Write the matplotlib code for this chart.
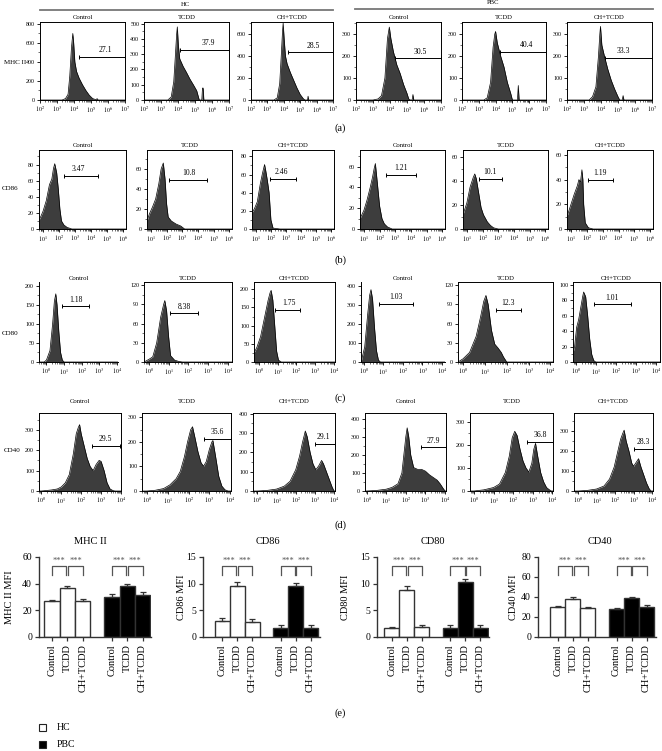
import numpy as np
import matplotlib
matplotlib.use("Agg")
import matplotlib.pyplot as plt
from matplotlib.patches import Rectangle
from matplotlib.lines import Line2D
from matplotlib.ticker import FixedLocator, AutoMinorLocator

plt.rcParams['font.family'] = ['Liberation Serif', 'DejaVu Serif']
plt.rcParams['mathtext.fontset'] = 'stix'

groups = ["Control", "TCDD", "CH+TCDD"]
subsets = ["HC", "PBC"]

# ---- flow histograms: x in decades (log10 of fluorescence), y = counts ----
# (a) MHC II  order: HC ctrl, HC TCDD, HC CH+TCDD, PBC ctrl, PBC TCDD, PBC CH+TCDD
mhc_x = [
    [2.0, 3.3, 3.5, 3.65, 3.75, 3.85, 3.93, 3.98, 4.05, 4.15, 4.3, 4.5, 4.7, 4.9, 5.1, 5.3, 5.36, 5.4, 5.45, 7.0],
    [2.0, 3.4, 3.6, 3.75, 3.85, 3.92, 3.96, 4.02, 4.1, 4.3, 4.5, 4.7, 4.9, 5.1, 5.25, 5.4, 5.44, 5.48, 5.52, 7.0],
    [2.0, 3.4, 3.6, 3.75, 3.85, 3.92, 3.96, 4.02, 4.1, 4.2, 4.4, 4.6, 4.8, 5.0, 5.2, 5.3, 5.45, 5.48, 5.52, 7.0],
    [2.0, 3.0, 3.3, 3.5, 3.7, 3.85, 3.96, 4.05, 4.2, 4.4, 4.6, 4.8, 5.0, 5.1, 5.2, 5.3, 5.35, 5.4, 7.0],
    [2.0, 3.3, 3.5, 3.7, 3.85, 3.95, 4.0, 4.1, 4.3, 4.5, 4.7, 4.9, 5.0, 5.3, 5.35, 5.4, 7.0],
    [2.0, 3.3, 3.5, 3.7, 3.85, 3.93, 3.97, 4.05, 4.2, 4.4, 4.6, 4.8, 5.0, 5.1, 5.25, 5.3, 5.35, 7.0],
]
mhc_y = [
    [0, 0, 15, 60, 250, 550, 700, 600, 400, 300, 230, 160, 100, 50, 15, 3, 15, 3, 0, 0],
    [0, 0, 20, 120, 300, 430, 478, 360, 270, 220, 180, 137, 100, 61, 0, 0, 78, 78, 0, 0],
    [0, 0, 20, 150, 420, 620, 700, 560, 400, 330, 250, 180, 110, 50, 10, 0, 0, 35, 0, 0],
    [0, 0, 5, 20, 100, 280, 332, 280, 220, 160, 120, 70, 30, 5, 0, 0, 25, 0, 0],
    [0, 0, 10, 80, 240, 300, 312, 260, 200, 150, 80, 30, 0, 0, 66, 0, 0],
    [0, 0, 15, 60, 200, 300, 335, 250, 200, 140, 90, 50, 15, 0, 0, 20, 0, 0],
]
mhc_pct = ["27.1", "37.9", "28.5", "30.5", "40.4", "33.3"]
mhc_gate_lo = [4.27, 4.12, 4.27, 4.29, 4.29, 4.26]
mhc_gate_hi = [7.0, 7.0, 7.0, 7.0, 7.0, 7.0]
mhc_gate_y = [455, 326, 434, 190, 219, 192]
mhc_lab_x = [5.85, 5.78, 5.78, 5.76, 5.85, 5.33]

# (b) CD86
cd86_x = [
    [0.75, 0.85, 1.0, 1.2, 1.4, 1.55, 1.65, 1.73, 1.85, 1.95, 2.05, 2.15, 2.3, 2.5, 2.8, 6.17],
    [0.75, 0.9, 1.1, 1.3, 1.5, 1.65, 1.79, 1.9, 2.0, 2.1, 2.3, 2.6, 2.9, 3.15, 6.17],
    [0.75, 0.9, 1.1, 1.3, 1.45, 1.58, 1.65, 1.75, 1.88, 2.0, 2.14, 2.6, 6.17],
    [0.75, 1.0, 1.2, 1.4, 1.55, 1.65, 1.73, 1.85, 2.0, 2.15, 2.3, 2.5, 2.8, 6.17],
    [0.75, 1.0, 1.2, 1.4, 1.5, 1.6, 1.75, 1.9, 2.05, 2.3, 2.5, 2.7, 3.0, 6.17],
    [0.75, 1.0, 1.2, 1.4, 1.5, 1.6, 1.69, 1.75, 1.8, 1.9, 2.1, 2.4, 6.17],
]
cd86_y = [
    [11, 15, 22, 35, 55, 62, 75, 81, 70, 50, 25, 10, 5, 2, 0, 0],
    [8, 15, 22, 30, 45, 60, 66, 50, 25, 12, 8, 5, 3, 0, 0],
    [18, 22, 30, 50, 62, 71, 65, 55, 40, 10, 1, 0, 0],
    [10, 18, 28, 40, 50, 58, 63, 45, 22, 10, 5, 2, 0, 0],
    [12, 22, 35, 43, 46, 42, 30, 18, 12, 6, 3, 1, 0, 0],
    [10, 20, 28, 35, 40, 38, 48, 40, 20, 5, 1, 0, 0],
]
cd86_pct = ["3.47", "10.8", "2.46", "1.21", "10.1", "1.19"]
cd86_gate_lo = [2.31, 2.15, 1.94, 2.39, 1.74, 2.1]
cd86_gate_hi = [4.44, 4.6, 3.68, 4.31, 3.23, 3.63]
cd86_gate_y = [66, 49, 55, 52, 42, 40]
cd86_lab_x = [3.19, 3.42, 2.68, 3.35, 2.49, 2.83]

# (c) CD80
cd80_x = [
    [-0.42, -0.13, 0.0, 0.2, 0.35, 0.45, 0.53, 0.6, 0.7, 0.8, 0.9, 1.0, 4.05],
    [-0.24, 0.0, 0.2, 0.4, 0.6, 0.75, 0.81, 0.9, 1.0, 1.1, 1.3, 1.5, 1.7, 4.2],
    [-0.25, -0.1, 0.1, 0.3, 0.5, 0.6, 0.66, 0.75, 0.85, 0.95, 1.05, 1.2, 4.05],
    [-0.14, -0.1, 0.05, 0.2, 0.3, 0.37, 0.45, 0.55, 0.65, 0.75, 0.85, 4.15],
    [-0.23, 0.0, 0.3, 0.6, 0.8, 0.95, 1.05, 1.15, 1.3, 1.45, 1.6, 1.75, 1.85, 2.0, 4.12],
    [-0.13, -0.05, 0.05, 0.15, 0.25, 0.35, 0.4, 0.5, 0.6, 0.7, 0.8, 0.9, 1.0, 4.2],
]
cd80_y = [
    [0, 0, 5, 30, 100, 160, 179, 150, 80, 25, 5, 0, 0],
    [0, 4, 8, 30, 70, 90, 96, 80, 40, 10, 3, 1, 0, 0],
    [25, 40, 70, 120, 170, 190, 197, 170, 100, 30, 5, 0, 0],
    [0, 15, 80, 250, 350, 380, 330, 180, 60, 10, 0, 0],
    [0, 5, 15, 40, 70, 95, 104, 90, 50, 28, 22, 15, 8, 0, 0],
    [12, 20, 45, 55, 70, 85, 91, 85, 60, 30, 10, 2, 0, 0],
]
cd80_pct = ["1.18", "8.38", "1.75", "1.03", "12.3", "1.01"]
cd80_gate_lo = [0.9, 1.07, 0.89, 0.76, 1.51, 0.9]
cd80_gate_hi = [2.4, 2.46, 2.2, 2.5, 2.65, 2.78]
cd80_gate_y = [146, 76, 144, 305, 82, 75]
cd80_lab_x = [1.66, 1.78, 1.62, 1.63, 2.08, 1.83]

# (d) CD40
cd40_x = [
    [-0.12, 0.0, 0.5, 0.8, 1.0, 1.2, 1.4, 1.6, 1.75, 1.85, 1.92, 2.0, 2.15, 2.3, 2.45, 2.6, 2.75, 2.9, 3.0, 3.15, 3.3, 3.45, 3.6, 3.7, 4.0],
    [-0.24, 0.0, 0.4, 0.8, 1.1, 1.4, 1.6, 1.8, 1.95, 2.1, 2.19, 2.3, 2.45, 2.6, 2.72, 2.85, 3.0, 3.12, 3.17, 3.3, 3.45, 3.6, 3.75, 3.9, 4.04],
    [-0.23, 0.0, 0.5, 1.0, 1.4, 1.7, 2.0, 2.2, 2.35, 2.5, 2.6, 2.75, 2.9, 3.05, 3.2, 3.35, 3.45, 3.6, 3.75, 3.9, 4.0, 4.05],
    [-0.08, 0.0, 0.5, 1.0, 1.3, 1.6, 1.8, 1.9, 2.0, 2.07, 2.15, 2.25, 2.4, 2.6, 2.8, 3.0, 3.2, 3.4, 3.6, 3.75, 3.9, 4.0, 4.05],
    [-0.2, 0.0, 0.5, 1.0, 1.3, 1.6, 1.8, 1.95, 2.08, 2.2, 2.35, 2.5, 2.65, 2.8, 2.95, 3.05, 3.14, 3.25, 3.4, 3.55, 3.7, 3.85, 3.95, 4.03],
    [-0.22, 0.0, 0.5, 1.0, 1.4, 1.7, 1.95, 2.15, 2.3, 2.42, 2.49, 2.6, 2.75, 2.9, 3.0, 3.15, 3.27, 3.4, 3.55, 3.7, 3.85, 3.95, 4.05],
]
cd40_y = [
    [0, 0, 5, 10, 20, 40, 80, 180, 280, 310, 325, 280, 220, 160, 120, 100, 130, 150, 145, 100, 40, 10, 2, 0, 0],
    [0, 0, 3, 10, 25, 50, 80, 140, 200, 250, 262, 220, 160, 115, 101, 120, 170, 200, 206, 140, 60, 20, 5, 0, 0],
    [0, 0, 3, 10, 25, 50, 110, 180, 250, 310, 280, 200, 140, 110, 130, 158, 140, 100, 60, 20, 0, 0],
    [0, 0, 3, 10, 20, 40, 100, 200, 300, 350, 300, 200, 130, 120, 120, 110, 90, 75, 60, 40, 15, 0, 0],
    [0, 0, 5, 15, 30, 80, 150, 230, 258, 240, 180, 130, 100, 82, 120, 180, 206, 150, 80, 40, 15, 5, 0, 0],
    [0, 0, 3, 10, 25, 60, 120, 200, 260, 290, 305, 250, 200, 140, 124, 145, 162, 120, 80, 40, 10, 0, 0],
]
cd40_pct = ["29.5", "35.6", "29.1", "27.9", "36.8", "28.3"]
cd40_gate_lo = [2.55, 2.75, 3.0, 2.75, 2.68, 3.0]
cd40_gate_hi = [3.95, 4.03, 4.05, 4.03, 4.03, 4.03]
cd40_gate_y = [221, 213, 245, 242, 211, 210]
cd40_lab_x = [3.22, 3.36, 3.45, 3.39, 3.36, 3.55]

# ---- (e) mean fluorescence intensity ----
mhc_hc = [27.3, 37, 26.7]
mhc_hc_err = [0.8, 1.5, 1.5]
mhc_pbc = [30, 38, 31.7]
mhc_pbc_err = [2, 2, 2.3]
cd86_hc = [3.05, 9.6, 2.8]
cd86_hc_err = [0.6, 0.8, 0.5]
cd86_pbc = [1.65, 9.6, 1.65]
cd86_pbc_err = [0.6, 0.5, 0.6]
cd80_hc = [1.75, 8.8, 1.95]
cd80_hc_err = [0.2, 0.75, 0.25]
cd80_pbc = [1.75, 10.4, 1.75]
cd80_pbc_err = [0.5, 0.45, 0.5]
cd40_hc = [30, 38, 29]
cd40_hc_err = [1, 2.5, 1]
cd40_pbc = [28, 39, 30]
cd40_pbc_err = [1.5, 1.5, 2.5]

W, H = 662, 751
fig = plt.figure(figsize=(W / 100, H / 100), dpi=100)


def px_axes(l, t, w, h):
    return fig.add_axes([l / W, 1 - (t + h) / H, w / W, h / H])


def ftext(x, y, s, **kw):
    kw.setdefault('ha', 'center')
    kw.setdefault('va', 'center')
    fig.text(x / W, 1 - y / H, s, **kw)


def flow_panel(rect, x, y, xlim, ytop, ystep, dec, title, lo, hi, gy, lx, pct, box, pad):
    ax = px_axes(*rect)
    ax.fill_between(x, y, 0, color='#3d3d3d', lw=0)
    ax.plot(x, y, color='black', lw=0.5)
    ax.set_xlim(*xlim)
    ax.set_ylim(0, ytop)
    ax.set_xticks(dec)
    ax.set_xticklabels([f'$10^{{{d}}}$' for d in dec])
    minor = [d + np.log10(k) for d in range(dec[0] - 1, dec[-1] + 1) for k in range(2, 10)]
    ax.xaxis.set_minor_locator(FixedLocator([m for m in minor if xlim[0] <= m <= xlim[1]]))
    ax.set_yticks(np.arange(0, ytop + 1, ystep))
    ax.yaxis.set_minor_locator(AutoMinorLocator(2))
    ax.tick_params(which='major', length=2, width=0.6, labelsize=4.3, pad=1.5)
    ax.tick_params(which='minor', length=1.2, width=0.4)
    for s in ax.spines.values():
        s.set_linewidth(0.7)
    if not box:
        ax.spines[['top', 'right']].set_visible(False)
    ax.plot([lo, hi], [gy, gy], color='black', lw=0.7, marker='|', ms=3.5, mew=0.7, clip_on=False)
    ax.text(lx, gy + ytop * 0.035, pct, ha='center', va='bottom', fontsize=5.5)
    ax.set_title(title, fontsize=4.8, pad=pad)
    return ax


# flow rows: (data, layout)
row_tops = [22, 150, 282, 413]
row_h = [78, 79, 80, 78]
row_lefts = [[40, 144, 251, 356, 462, 567],
             [39, 147, 252, 360, 463, 567],
             [39, 144, 254, 361, 458, 573],
             [39, 142, 253, 365, 470, 574]]
row_widths = [[85, 85, 82, 85, 84, 85],
              [87, 85, 82, 85, 85, 86],
              [79, 88, 81, 84, 95, 87],
              [82, 89, 82, 81, 83, 79]]
row_pads = [2, 2, 1.5, 7]
row_xlims = [
    [(2, 7)] * 6,
    [(0.75, 6.17)] * 6,
    [(-0.42, 4.05), (-0.24, 4.2), (-0.25, 4.05), (-0.14, 4.15), (-0.23, 4.12), (-0.13, 4.2)],
    [(-0.12, 4.0), (-0.24, 4.04), (-0.23, 4.05), (-0.08, 4.05), (-0.2, 4.03), (-0.22, 4.05)],
]
row_decs = [list(range(2, 8)), list(range(1, 7)), list(range(0, 5)), list(range(0, 5))]
row_ytop = [[820, 510, 710, 355, 355, 355],
            [98, 79, 87, 76, 66, 64],
            [210, 125, 220, 420, 125, 104],
            [382, 318, 403, 432, 337, 391]]
row_ystep = [[200, 100, 200, 100, 100, 100],
             [20, 20, 20, 20, 20, 20],
             [50, 30, 50, 100, 30, 20],
             [100, 100, 100, 100, 100, 100]]
row_box = [[True] * 6, [True] * 6,
           [False, True, True, False, True, True], [True] * 6]
row_data = [
    (mhc_x, mhc_y, mhc_pct, mhc_gate_lo, mhc_gate_hi, mhc_gate_y, mhc_lab_x),
    (cd86_x, cd86_y, cd86_pct, cd86_gate_lo, cd86_gate_hi, cd86_gate_y, cd86_lab_x),
    (cd80_x, cd80_y, cd80_pct, cd80_gate_lo, cd80_gate_hi, cd80_gate_y, cd80_lab_x),
    (cd40_x, cd40_y, cd40_pct, cd40_gate_lo, cd40_gate_hi, cd40_gate_y, cd40_lab_x),
]

for r in range(4):
    xs, ys, pcts, los, his, gys, lxs = row_data[r]
    for i in range(6):
        rect = (row_lefts[r][i], row_tops[r], row_widths[r][i], row_h[r])
        flow_panel(rect, xs[i], ys[i], row_xlims[r][i], row_ytop[r][i], row_ystep[r][i],
                   row_decs[r], groups[i % 3], los[i], his[i], gys[i], lxs[i], pcts[i],
                   row_box[r][i], row_pads[r])

# row labels
ftext(15, 63, "MHC II", fontsize=5)
ftext(10, 188, "CD86", fontsize=5)
ftext(10, 333, "CD80", fontsize=5)
ftext(12, 451, "CD40", fontsize=5)

# HC / PBC header
fig.add_artist(Line2D([40 / W, 333 / W], [1 - 9.5 / H] * 2, color='#777777', lw=1.3))
fig.add_artist(Line2D([355 / W, 653 / W], [1 - 8.5 / H] * 2, color='#777777', lw=1.3))
ftext(185, 4, "HC", fontsize=4.8)
ftext(493, 3, "PBC", fontsize=4.8)

# panel letters
for lab, yy in zip(["(a)", "(b)", "(c)", "(d)", "(e)"], [128, 260, 398, 525, 713]):
    ftext(340, yy, lab, fontsize=7.5)

# ---- bar charts ----
pos_hc = [0, 1, 2]
pos_pbc = [3.9, 4.9, 5.9]


def mfi_panel(rect, xlim, hc, hc_err, pbc, pbc_err, ytop, ystep, brk_lo, brk_hi, star_y):
    ax = px_axes(*rect)
    ec = '#333333'
    ax.bar(pos_hc, hc, width=1, color='white', edgecolor=ec, lw=1.0)
    ax.bar(pos_pbc, pbc, width=1, color='black', edgecolor=ec, lw=1.0)
    ax.errorbar(pos_hc, hc, yerr=[np.zeros(3), hc_err], fmt='none', ecolor=ec,
                elinewidth=0.9, capsize=2.5, capthick=0.9)
    ax.errorbar(pos_pbc, pbc, yerr=[np.zeros(3), pbc_err], fmt='none', ecolor=ec,
                elinewidth=0.9, capsize=2.5, capthick=0.9)
    for p in (pos_hc, pos_pbc):
        for a, b in [(p[0], p[1] - 0.06), (p[1] + 0.06, p[2])]:
            ax.plot([a, a, b, b], [brk_lo, brk_hi, brk_hi, brk_lo], color='#555555', lw=0.9)
            ax.text((a + b) / 2, star_y, "***", ha='center', va='center', fontsize=6, color='#555555')
    ax.set_xlim(*xlim)
    ax.set_ylim(0, ytop)
    ax.set_yticks(np.arange(0, ytop + 0.1, ystep))
    ax.set_xticks(pos_hc + pos_pbc)
    ax.set_xticklabels(groups * 2, rotation=90, fontsize=7.5)
    ax.spines[['top', 'right']].set_visible(False)
    for s in ('left', 'bottom'):
        ax.spines[s].set_color(ec)
        ax.spines[s].set_linewidth(1.0)
    ax.tick_params(axis='y', length=3, width=0.9, labelsize=7, pad=2, color=ec)
    ax.tick_params(axis='x', length=3, width=0.9, pad=2, color=ec)
    return ax


mfi_panel((39, 557, 112, 80), (-0.85, 6.45), mhc_hc, mhc_hc_err, mhc_pbc, mhc_pbc_err, 60, 20, 46.8, 53.6, 57)
mfi_panel((203, 557, 117, 80), (-1.27, 6.53), cd86_hc, cd86_hc_err, cd86_pbc, cd86_pbc_err, 15, 5, 11.7, 13.4, 14.25)
mfi_panel((377, 557, 112, 80), (-1.0, 6.47), cd80_hc, cd80_hc_err, cd80_pbc, cd80_pbc_err, 15, 5, 11.7, 13.4, 14.25)
mfi_panel((538, 557, 118, 80), (-1.33, 6.53), cd40_hc, cd40_hc_err, cd40_pbc, cd40_pbc_err, 80, 20, 62, 71.5, 76)

for name, xx in zip(["MHC II", "CD86", "CD80", "CD40"], [90, 268, 433, 600]):
    ftext(xx, 541, name, fontsize=7.5)
for name, xx in zip(["MHC II MFI", "CD86 MFI", "CD80 MFI", "CD40 MFI"], [10, 181, 346, 513]):
    ftext(xx, 597, name, fontsize=7.5, rotation=90)

# legend
for (face, yy, lab) in [('white', 724, subsets[0]), ('black', 741, subsets[1])]:
    fig.add_artist(Rectangle((39 / W, 1 - (yy + 7) / H), 7 / W, 7 / H, facecolor=face,
                             edgecolor='#222222', lw=0.8, transform=fig.transFigure))
    ftext(57, yy + 3.5, lab, fontsize=7, ha='left')

fig.savefig("out.png", dpi=100, facecolor='white')
